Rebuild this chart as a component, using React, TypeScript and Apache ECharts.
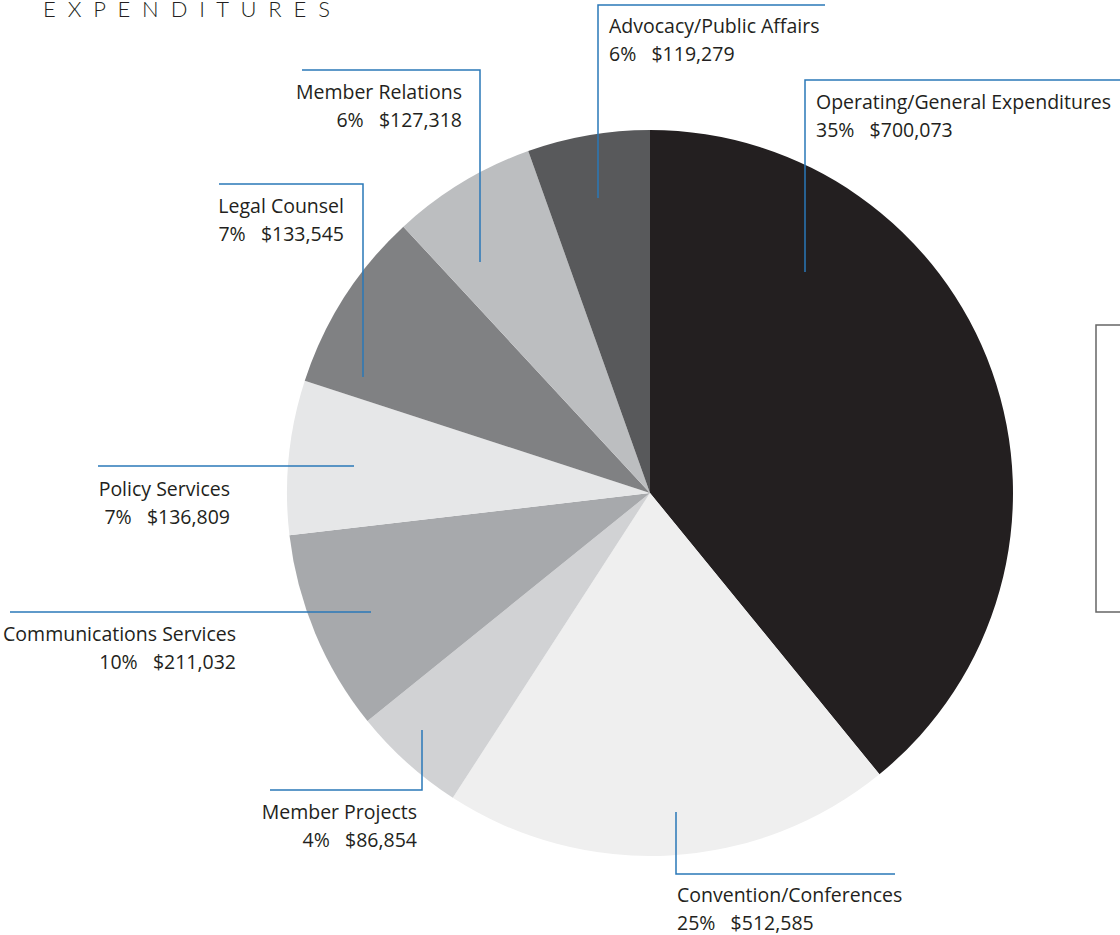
import React, { useEffect, useRef } from "react";
import * as echarts from "echarts";

const categories = [
  "Operating/General Expenditures",
  "Convention/Conferences",
  "Member Projects",
  "Communications Services",
  "Policy Services",
  "Legal Counsel",
  "Member Relations",
  "Advocacy/Public Affairs",
];
// slice sizes as drawn in the picture (degrees of arc)
const sliceValues = [140.8, 72.1, 18.2, 32.2, 24.7, 29.2, 23.2, 19.6];
const percentLabels = ["35%", "25%", "4%", "10%", "7%", "7%", "6%", "6%"];
const amountLabels = ["$700,073", "$512,585", "$86,854", "$211,032", "$136,809", "$133,545", "$127,318", "$119,279"];
const sliceColors = ["#231f20", "#efefef", "#d1d2d4", "#a7a9ac", "#e6e7e8", "#808183", "#bcbec0", "#58595b"];
const titleText = "EXPENDITURES";

// label annotation layout: text anchor, alignment, leader polyline
const labelLayout = [
  { x: 816, y: 87, align: "left", line: [[805, 272], [805, 80], [1120, 80]] },
  { x: 677, y: 880, align: "left", line: [[676, 812], [676, 874], [895, 874]] },
  { x: 417, y: 797, align: "right", line: [[422, 730], [422, 790], [270, 790]] },
  { x: 236, y: 619, align: "right", line: [[371, 612], [10, 612]] },
  { x: 230, y: 474, align: "right", line: [[354, 466], [98, 466]] },
  { x: 344, y: 191, align: "right", line: [[363, 377], [363, 184], [219, 184]] },
  { x: 462, y: 77, align: "right", line: [[480, 262], [480, 70], [302, 70]] },
  { x: 609, y: 11, align: "left", line: [[598, 198], [598, 5], [825, 5]] },
];

const FONT = "'Open Sans', Lato, sans-serif";

export default function App() {
  const ref = useRef<HTMLDivElement>(null);
  useEffect(() => {
    if (!ref.current) return;
    const chart = echarts.init(ref.current, null, { renderer: "svg" });
    const graphics: any[] = [];
    labelLayout.forEach((l, i) => {
      graphics.push({
        type: "polyline",
        shape: { points: l.line },
        style: { stroke: "#2a78b8", lineWidth: 1.5, fill: null },
        z: 10,
      });
      graphics.push({
        type: "text",
        x: l.x,
        y: l.y,
        style: {
          text: categories[i] + "\n" + percentLabels[i] + "   " + amountLabels[i],
          fill: "#231f20",
          font: "19.5px " + FONT,
          lineHeight: 28,
          align: l.align,
          verticalAlign: "top",
        },
        z: 10,
      });
    });
    graphics.push({
      type: "text",
      x: 43,
      y: -3,
      style: {
        text: titleText.split("").join("  "),
        fill: "#231f20",
        font: "300 22px Lato, sans-serif",
        verticalAlign: "top",
      },
    });
    graphics.push({
      type: "polyline",
      shape: { points: [[1120, 325], [1096, 325], [1096, 612], [1120, 612]] },
      style: { stroke: "#666666", lineWidth: 1.5, fill: null },
    });
    chart.setOption({
      animation: false,
      backgroundColor: "#ffffff",
      series: [
        {
          type: "pie",
          center: [650, 493],
          radius: 363,
          startAngle: 90,
          clockwise: true,
          label: { show: false },
          labelLine: { show: false },
          emphasis: { disabled: true },
          itemStyle: { borderWidth: 0 },
          data: categories.map((c, i) => ({
            name: c,
            value: sliceValues[i],
            itemStyle: { color: sliceColors[i] },
          })),
        },
      ],
      graphic: graphics,
    });
    return () => chart.dispose();
  }, []);
  return (
    <div
      ref={ref}
      style={{ position: "fixed", left: 0, top: 0, width: 1120, height: 935 }}
    />
  );
}
